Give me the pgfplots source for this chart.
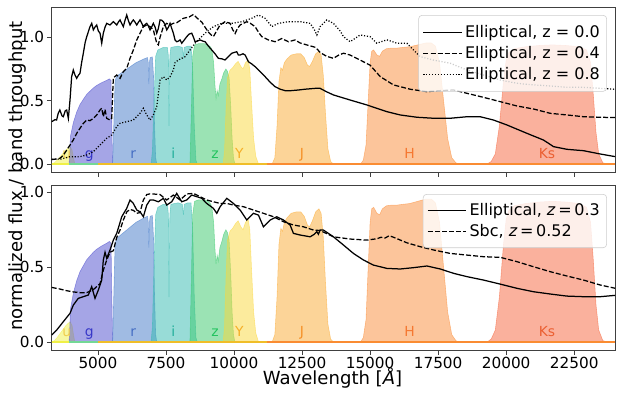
\documentclass[border=0pt]{standalone}
\usepackage{fontspec}
\setmainfont{DejaVu Sans}
\usepackage{pgfplots}
\usepackage{pgfplotstable}
\pgfplotsset{compat=1.18}

% filter colours (drawn at half opacity)
\definecolor{ucol}{RGB}{240,240,70}
\definecolor{gcol}{RGB}{75,75,205}
\definecolor{rcol}{RGB}{65,120,200}
\definecolor{icol}{RGB}{50,185,175}
\definecolor{zcol}{RGB}{55,200,105}
\definecolor{Ycol}{RGB}{250,215,60}
\definecolor{Jcol}{RGB}{250,170,50}
\definecolor{Hcol}{RGB}{250,140,55}
\definecolor{Kcol}{RGB}{245,100,60}
% label colours
\definecolor{ulab}{RGB}{240,205,80}
\definecolor{glab}{RGB}{55,55,200}
\definecolor{rlab}{RGB}{70,110,195}
\definecolor{ilab}{RGB}{35,175,155}
\definecolor{zlab}{RGB}{35,195,95}
\definecolor{Ylab}{RGB}{245,175,40}
\definecolor{Jlab}{RGB}{245,145,40}
\definecolor{Hlab}{RGB}{245,120,50}
\definecolor{Klab}{RGB}{235,95,50}
\definecolor{basegold}{RGB}{240,190,40}
\definecolor{baseorange}{RGB}{250,140,50}

% ---- filter curves ----
\pgfplotstableread{
x y
3300 0
3400 0.01
3500 0.03
3600 0.055
3700 0.08
3800 0.105
3900 0.125
3980 0.135
4050 0.11
4100 0.05
4150 0
}\filtu
\pgfplotstableread{
x y
3940 0
3970 0.12
3990 0.22
4100 0.33
4219 0.41
4340 0.47
4462 0.51
4587 0.55
4708 0.575
4830 0.60
4954 0.62
5076 0.635
5197 0.648
5320 0.66
5420 0.672
5480 0.66
5510 0.3
5540 0
}\filtg
\pgfplotstableread{
x y
5540 0
5580 0.3
5630 0.66
5700 0.695
5800 0.71
5900 0.725
6000 0.74
6100 0.755
6200 0.77
6300 0.785
6400 0.80
6500 0.81
6600 0.82
6700 0.83
6820 0.84
6850 0.80
6870 0.63
6890 0.80
6920 0.84
7000 0.845
7040 0.7
7080 0.3
7120 0.05
7160 0
}\filtr
\pgfplotstableread{
x y
6950 0
7000 0.1
7060 0.5
7120 0.85
7200 0.90
7300 0.91
7400 0.92
7550 0.92
7590 0.85
7610 0.30
7640 0.85
7680 0.92
7800 0.925
7950 0.93
8100 0.92
8140 0.85
8170 0.92
8300 0.93
8420 0.93
8480 0.75
8540 0.3
8600 0.03
8650 0
}\filti
\pgfplotstableread{
x y
8380 0
8430 0.4
8480 0.85
8550 0.94
8700 0.95
8900 0.95
9050 0.94
9150 0.92
9200 0.88
9250 0.80
9300 0.62
9340 0.52
9380 0.58
9420 0.54
9480 0.63
9550 0.67
9620 0.72
9700 0.75
9760 0.73
9820 0.68
9880 0.45
9930 0.2
9980 0.05
10030 0
}\filtz
\pgfplotstableread{
x y
9600 0
9650 0.1
9700 0.4
9760 0.68
9850 0.74
9950 0.76
10050 0.79
10150 0.81
10250 0.77
10330 0.75
10420 0.80
10520 0.82
10580 0.75
10640 0.5
10720 0.2
10800 0.06
10900 0
}\filtY
\pgfplotstableread{
x y
11400 0
11500 0.05
11580 0.3
11650 0.65
11720 0.76
11780 0.74
11850 0.80
11950 0.83
12100 0.86
12300 0.87
12450 0.87
12580 0.84
12700 0.78
12780 0.77
12880 0.81
13000 0.87
13120 0.89
13200 0.86
13280 0.7
13360 0.4
13450 0.12
13550 0.02
13650 0
}\filtJ
\pgfplotstableread{
x y
14650 0
14750 0.03
14850 0.15
14930 0.5
15000 0.8
15060 0.89
15130 0.90
15250 0.86
15350 0.85
15450 0.89
15600 0.91
15800 0.915
16000 0.915
16200 0.92
16450 0.925
16650 0.935
16850 0.945
17050 0.955
17250 0.955
17400 0.93
17550 0.80
17700 0.5
17850 0.2
18000 0.05
18150 0.01
18250 0
}\filtH
\pgfplotstableread{
x y
19300 0
19450 0.02
19600 0.08
19750 0.3
19900 0.65
20000 0.82
20100 0.88
20300 0.91
20700 0.925
21200 0.935
21700 0.94
22200 0.935
22700 0.925
22950 0.90
23100 0.80
23200 0.55
23300 0.25
23400 0.08
23550 0.01
23700 0
}\filtK

% ---- spectra, top panel ----
\pgfplotstableread{
x y
3300 0.334
3420 0.35
3480 0.347
3540 0.40
3600 0.426
3680 0.38
3727 0.373
3800 0.42
3851 0.426
3912 0.36
3973 0.505
4033 0.689
4094 0.742
4160 0.70
4219 0.676
4280 0.70
4340 0.716
4400 0.80
4462 0.874
4530 0.96
4587 1.005
4647 1.044
4708 1.084
4770 1.11
4830 1.058
4890 1.08
4954 1.097
5013 1.05
5076 1.032
5138 0.953
5197 1.032
5260 1.08
5322 1.11
5443 1.097
5565 1.123
5630 1.11
5690 1.097
5750 1.12
5811 1.137
5870 1.11
5932 1.084
5990 1.13
6057 1.176
6120 1.13
6179 1.097
6240 1.12
6300 1.137
6360 1.12
6425 1.097
6490 1.12
6546 1.137
6610 1.11
6668 1.084
6730 1.10
6793 1.11
6850 1.09
6914 1.058
6970 1.08
7035 1.11
7100 1.08
7160 1.032
7220 1.07
7282 1.137
7340 1.135
7403 1.123
7465 1.10
7528 1.058
7590 1.08
7649 1.11
7710 1.07
7771 1.032
7833 0.979
7895 0.965
7956 0.97
8017 0.979
8079 0.953
8140 0.97
8263 1.005
8350 1.025
8447 1.032
8510 1.00
8568 0.965
8650 0.97
8752 0.979
8850 0.97
8936 0.965
9060 0.93
9182 0.90
9300 0.87
9425 0.834
9550 0.83
9671 0.821
9800 0.85
9918 0.874
10000 0.88
10101 0.886
10160 0.86
10223 0.86
10330 0.87
10407 0.86
10529 0.807
10650 0.79
10774 0.768
10950 0.73
11142 0.689
11330 0.645
11509 0.61
11700 0.59
11877 0.579
12100 0.579
12366 0.584
12600 0.59
12980 0.597
13164 0.597
13400 0.57
13653 0.545
14265 0.505
14881 0.466
15616 0.413
16107 0.387
16719 0.369
17331 0.361
17945 0.361
18557 0.373
19048 0.373
19535 0.347
20028 0.308
20763 0.242
21373 0.189
21741 0.137
22234 0.116
22844 0.105
23458 0.079
24010 0.058
}\ezero
\pgfplotstableread{
x y
3300 0.035
3480 0.04
3605 0.045
3730 0.07
3851 0.11
3973 0.15
4094 0.19
4219 0.242
4340 0.282
4462 0.321
4587 0.347
4708 0.342
4830 0.36
4954 0.387
5076 0.426
5138 0.44
5197 0.373
5260 0.43
5322 0.36
5443 0.347
5506 0.36
5540 0.55
5565 0.68
5690 0.702
5811 0.676
5932 0.729
6057 0.755
6179 0.834
6300 0.90
6425 0.979
6546 1.032
6668 1.084
6793 1.097
6914 1.084
7035 1.058
7160 0.953
7219 0.94
7282 1.00
7403 1.084
7528 1.11
7649 1.097
7771 1.11
7895 1.115
8140 1.15
8350 1.16
8508 1.18
8650 1.15
8813 1.12
8936 1.08
9058 1.04
9150 1.02
9242 1.005
9360 1.05
9487 1.097
9671 1.123
9855 1.11
9950 1.06
10039 1.03
10130 1.07
10223 1.097
10468 1.123
10600 1.11
10774 1.084
10900 1.04
11019 1.005
11264 0.979
11509 0.965
11754 0.99
11999 0.965
12243 0.979
12429 0.955
12750 0.935
13000 0.92
13164 0.88
13400 0.85
13653 0.834
13850 0.86
14021 0.874
14265 0.86
14633 0.82
15000 0.78
15370 0.69
15859 0.624
16473 0.59
17088 0.571
17578 0.579
18068 0.584
18557 0.558
19168 0.526
19783 0.492
20395 0.458
21008 0.434
21618 0.40
22234 0.387
22844 0.373
23458 0.369
24010 0.366
}\efour
\pgfplotstableread{
x y
3300 0.037
3605 0.037
3973 0.058
4340 0.058
4587 0.071
4830 0.097
5076 0.15
5322 0.203
5506 0.229
5690 0.295
5811 0.321
6057 0.334
6300 0.347
6546 0.40
6668 0.44
6793 0.387
6914 0.347
7035 0.387
7160 0.452
7282 0.663
7403 0.689
7528 0.663
7649 0.689
7771 0.742
7833 0.80
7956 0.821
8201 0.847
8568 0.953
8936 1.032
9242 1.084
9549 1.11
9918 1.11
10285 1.123
10652 1.15
10897 1.176
11142 1.15
11387 1.084
11632 1.11
11999 1.123
12429 1.123
12797 1.11
12950 1.06
13043 1.018
13164 1.084
13408 1.137
13653 1.11
13900 1.05
14021 1.005
14265 0.965
14633 1.018
15000 1.005
15247 0.953
15616 0.98
15990 0.953
16351 0.953
16840 0.847
17331 0.82
17945 0.795
18557 0.742
19168 0.702
19783 0.663
20395 0.637
21008 0.624
21618 0.616
22234 0.605
22844 0.605
23458 0.597
24010 0.59
}\eeight

% ---- spectra, bottom panel ----
\pgfplotstableread{
x y
3300 0.047
3483 0.08
3727 0.136
3973 0.192
4094 0.247
4278 0.292
4462 0.303
4646 0.314
4770 0.37
4892 0.292
5013 0.347
5138 0.414
5197 0.548
5260 0.60
5322 0.559
5443 0.615
5565 0.681
5690 0.726
5874 0.837
6057 0.893
6179 0.949
6300 0.926
6425 0.882
6546 0.87
6668 0.837
6793 0.915
6914 0.949
7035 0.949
7220 0.937
7405 0.96
7527 0.915
7710 0.937
7895 0.993
8078 0.937
8263 0.949
8445 0.982
8630 0.971
8813 0.96
8997 0.926
9241 0.893
9366 0.86
9488 0.904
9734 0.96
9977 0.926
10223 0.882
10469 0.815
10713 0.86
10897 0.848
11079 0.77
11326 0.815
11572 0.837
11815 0.815
12060 0.782
12182 0.726
12428 0.715
12797 0.703
12950 0.72
13043 0.737
13100 0.72
13164 0.748
13286 0.748
13653 0.703
14021 0.648
14388 0.592
14756 0.548
15124 0.514
15616 0.492
16107 0.488
16596 0.497
17088 0.508
17578 0.488
18068 0.459
18557 0.437
19168 0.414
19783 0.387
20395 0.359
21008 0.336
21618 0.321
22234 0.307
22844 0.303
23458 0.303
24010 0.312
}\ethree
\pgfplotstableread{
x y
3300 0.365
3605 0.354
3851 0.343
4094 0.335
4340 0.33
4587 0.33
4830 0.35
5076 0.39
5197 0.48
5322 0.548
5443 0.60
5565 0.61
5690 0.70
5811 0.748
5932 0.815
6060 0.87
6179 0.885
6300 0.88
6425 0.86
6546 0.865
6668 0.949
6793 0.985
6914 0.99
7035 0.989
7282 0.985
7527 0.949
7772 0.982
8017 0.949
8263 0.989
8506 0.993
8752 0.971
8997 0.949
9241 0.937
9488 0.926
9734 0.926
9977 0.915
10346 0.904
10713 0.882
11079 0.86
11449 0.837
11815 0.804
12182 0.782
12550 0.77
12920 0.748
13164 0.745
13653 0.703
14265 0.688
14881 0.681
15250 0.69
15400 0.70
15550 0.695
15700 0.71
15860 0.70
16351 0.663
16840 0.637
17331 0.615
17945 0.592
18557 0.581
19168 0.57
19783 0.566
20395 0.537
21008 0.503
21618 0.47
22234 0.441
22844 0.414
23458 0.381
24010 0.359
}\sbc

\newcommand{\bandfill}[2]{%
  \addplot[forget plot, draw=#1, draw opacity=0.55, line width=0.4pt,
    fill=#1, fill opacity=0.5] table {#2} \closedcycle;}

\newcommand{\bands}{%
  \bandfill{ucol}{\filtu}
  \bandfill{gcol}{\filtg}
  \bandfill{rcol}{\filtr}
  \bandfill{icol}{\filti}
  \bandfill{zcol}{\filtz}
  \bandfill{Ycol}{\filtY}
  \bandfill{Jcol}{\filtJ}
  \bandfill{Hcol}{\filtH}
  \bandfill{Kcol}{\filtK}
  \addplot[forget plot, ucol, line width=1pt] coordinates {(3300,0) (3950,0)};
  \addplot[forget plot, zcol!70, line width=1pt] coordinates {(3950,0) (5000,0)};
  \addplot[forget plot, basegold, line width=1pt] coordinates {(5000,0) (11200,0)};
  \addplot[forget plot, baseorange, line width=1pt] coordinates {(11200,0) (24000,0)};
  \node[bandlab, text=ulab] at (axis cs:3851,0.04) {u};
  \node[bandlab, text=glab] at (axis cs:4682,0.04) {g};
  \node[bandlab, text=rlab] at (axis cs:6300,0.04) {r};
  \node[bandlab, text=ilab] at (axis cs:7771,0.04) {i};
  \node[bandlab, text=zlab] at (axis cs:9304,0.04) {z};
  \node[bandlab, text=Ylab] at (axis cs:10197,0.04) {Y};
  \node[bandlab, text=Jlab] at (axis cs:12491,0.04) {J};
  \node[bandlab, text=Hlab] at (axis cs:16448,0.04) {H};
  \node[bandlab, text=Klab] at (axis cs:21498,0.04) {Ks};
}

\tikzset{bandlab/.style={anchor=base, inner sep=0pt, font=\fontsize{10}{12}\selectfont}}

\pgfplotsset{
  panel/.style={
    scale only axis, width=405.6pt, height=118.8pt,
    xmin=3300, xmax=24000,
    xtick={5000,7500,...,22500},
    ytick={0,0.5,1},
    scaled x ticks=false,
    tick align=outside, tick pos=left,
    major tick length=3.4pt,
    axis line style={black!75, line width=0.6pt},
    tick style={black!75, line width=0.6pt},
    tick label style={font=\fontsize{11}{13}\selectfont},
    /pgf/number format/assume math mode=true,
    xticklabel style={yshift=2pt, /pgf/number format/1000 sep={}},
    yticklabel style={xshift=1.5pt, /pgf/number format/fixed, /pgf/number format/fixed zerofill, /pgf/number format/precision=1},
    legend style={at={(1,1)}, anchor=north east, xshift=-5.8pt,
      draw=black!20, rounded corners=2.5pt, fill=white, fill opacity=0.8, text opacity=1,
      font=\fontsize{11.5}{13.5}\selectfont, inner xsep=3pt, inner ysep=5pt, row sep=1pt},
    legend cell align=left,
    legend image code/.code={\draw[#1] (0pt,0pt) -- (22pt,0pt); \path (0pt,0pt) -- (27.5pt,0pt);},
  },
  solidline/.style={black, line width=0.9pt},
  dashline/.style={black, line width=0.9pt, dash pattern=on 3.6pt off 1.5pt},
  dotline/.style={black, line width=0.9pt, dash pattern=on 0.8pt off 1.3pt},
}

\begin{document}
\begin{tikzpicture}
\begin{axis}[panel, at={(0,0)}, anchor=south west, ymin=-0.063, ymax=1.239, xticklabels={},
  legend style={yshift=-5.8pt}]
\bands
\addplot[solidline] table {\ezero};
\addlegendentry{Elliptical, z = 0.0}
\addplot[dashline] table {\efour};
\addlegendentry{Elliptical, z = 0.4}
\addplot[dotline] table {\eeight};
\addlegendentry{Elliptical, z = 0.8}
\end{axis}

\begin{axis}[panel, at={(0,-9.36pt)}, anchor=north west, ymin=-0.053, ymax=1.049,
  legend style={yshift=-6.5pt, inner ysep=4.5pt}]
\bands
\addplot[solidline] table {\ethree};
\addlegendentry{Elliptical, \textit{z}\,=\,0.3}
\addplot[dashline] table {\sbc};
\addlegendentry{Sbc, \textit{z}\,=\,0.52}
\end{axis}

\node[rotate=90, font=\fontsize{13}{15}\selectfont] at (-24.3pt,-2.9pt) {normalized flux / band throughput};
\node[anchor=base, font=\fontsize{13}{15}\selectfont] at (202.2pt,-153.3pt) {Wavelength [\textit{Å}]};
\pgfresetboundingbox
\path[use as bounding box] (-37.22pt,-164.16pt) rectangle (411.34pt,123.84pt);
\end{tikzpicture}
\end{document}
